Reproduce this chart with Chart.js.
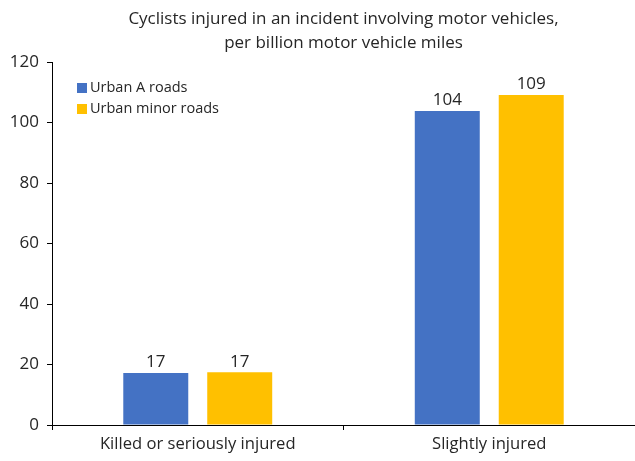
<!DOCTYPE html>
<html>
<head>
<meta charset="utf-8">
<script src="https://cdn.jsdelivr.net/npm/chart.js@4.4.1/dist/chart.umd.min.js"></script>
<style>
html,body{margin:0;padding:0;background:#fff;}
#wrap{width:635px;height:461px;position:relative;}
</style>
</head>
<body>
<div id="wrap"><canvas id="chart" width="635" height="461"></canvas></div>
<script>
// ---- data ----
const categories = ['Killed or seriously injured', 'Slightly injured'];
const seriesNames = ['Urban A roads', 'Urban minor roads'];
const urbanA = [17.2, 103.8];
const urbanMinor = [17.4, 109.1];
const yTicks = [0, 20, 40, 60, 80, 100, 120];
const titleLines = ['Cyclists injured in an incident involving motor vehicles,', 'per billion motor vehicle miles'];

const BLUE = '#4472C4';
const GOLD = '#FFC000';
const TEXT = '#262626';
const FONT = '"Open Sans", sans-serif';

const titlePlugin = {
  id: 'customTitle',
  afterDraw(chart) {
    const {ctx, chartArea} = chart;
    const cx = (chartArea.left + chartArea.right) / 2;
    ctx.save();
    ctx.fillStyle = TEXT;
    ctx.font = '17px ' + FONT;
    ctx.textAlign = 'center';
    ctx.textBaseline = 'middle';
    titleLines.forEach((t, i) => ctx.fillText(t, cx, 19 + i * 24));
    ctx.restore();
  }
};

const legendPlugin = {
  id: 'customLegend',
  afterDraw(chart) {
    const {ctx} = chart;
    ctx.save();
    ctx.font = '14.5px ' + FONT;
    ctx.textBaseline = 'middle';
    ctx.textAlign = 'left';
    chart.data.datasets.forEach((ds, i) => {
      const y = 88 + i * 21;
      ctx.fillStyle = ds.backgroundColor;
      ctx.fillRect(77, y - 5, 10, 10);
      ctx.fillStyle = TEXT;
      ctx.fillText(ds.label, 90, y);
    });
    ctx.restore();
  }
};

const labelPlugin = {
  id: 'barLabels',
  afterDatasetsDraw(chart) {
    const {ctx} = chart;
    ctx.save();
    ctx.font = '17px ' + FONT;
    ctx.fillStyle = TEXT;
    ctx.textAlign = 'center';
    ctx.textBaseline = 'bottom';
    chart.data.datasets.forEach((ds, di) => {
      const meta = chart.getDatasetMeta(di);
      meta.data.forEach((bar, i) => {
        ctx.fillText(String(Math.round(ds.data[i])), bar.x, bar.y - 2);
      });
    });
    ctx.restore();
  }
};

new Chart(document.getElementById('chart'), {
  type: 'bar',
  data: {
    labels: categories,
    datasets: [
      {label: seriesNames[0], data: urbanA, backgroundColor: BLUE},
      {label: seriesNames[1], data: urbanMinor, backgroundColor: GOLD}
    ]
  },
  options: {
    responsive: false,
    animation: false,
    devicePixelRatio: 1,
    layout: {padding: {top: 62, left: 0, right: 0, bottom: 0}},
    categoryPercentage: 0.576,
    barPercentage: 0.774,
    plugins: {
      legend: {display: false},
      title: {display: false},
      tooltip: {enabled: false}
    },
    scales: {
      x: {
        offset: true,
        grid: {offset: true, drawOnChartArea: false, drawTicks: true, tickLength: 5, color: '#000', lineWidth: 1},
        border: {display: true, color: '#000', width: 1},
        ticks: {color: TEXT, font: {family: FONT, size: 16.6}, padding: 4, maxRotation: 0},
        afterFit(scale) { scale.height = 36; }
      },
      y: {
        min: 0, max: 120,
        afterBuildTicks(scale) { scale.ticks = yTicks.map(v => ({value: v})); },
        grid: {drawOnChartArea: false, drawTicks: true, tickLength: 5, color: '#000', lineWidth: 1},
        border: {display: true, color: '#000', width: 1},
        ticks: {color: TEXT, font: {family: FONT, size: 17}, padding: 8},
        afterFit(scale) { scale.width = 52; }
      }
    }
  },
  plugins: [titlePlugin, legendPlugin, labelPlugin]
});
</script>
</body>
</html>
